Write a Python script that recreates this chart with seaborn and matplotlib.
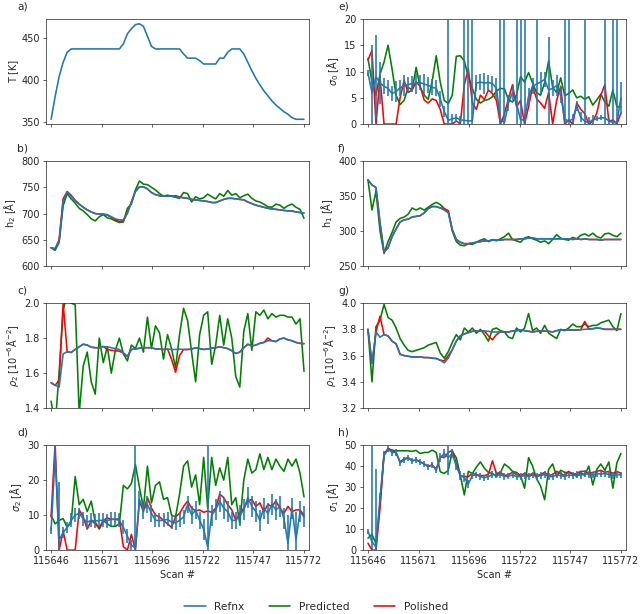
import numpy as np
import matplotlib
matplotlib.use("Agg")
import matplotlib.pyplot as plt
from matplotlib.lines import Line2D
import seaborn as sns

# scan numbers (every second scan)
scans = np.arange(115646, 115773, 2)

temperature = [353, 380, 404, 421, 433, 437, 437, 437,
               437, 437, 437, 437, 437, 437, 437, 437,
               437, 437, 443, 455, 461, 466, 467, 464,
               452, 440, 437, 437, 437, 437, 437, 437,
               437, 431, 426, 426, 426, 423, 419, 419,
               419, 419, 426, 426, 433, 437, 437, 437,
               431, 421, 411, 402, 394, 387, 381, 375,
               370, 366, 362, 359, 355, 353, 353, 353]

# b) h2
h2_refnx = [635, 633, 648, 722, 741, 733, 725, 718,
            712, 707, 703, 700, 699, 699, 698, 694,
            690, 688, 688, 700, 722, 742, 751, 751,
            747, 740, 736, 734, 733, 733, 733, 732,
            731, 730, 729, 727, 726, 725, 724, 723,
            721, 721, 724, 727, 729, 729, 728, 727,
            726, 722, 719, 716, 714, 712, 710, 709,
            708, 707, 706, 705, 705, 703, 702, 701]
h2_predicted = [635, 630, 645, 715, 738, 728, 720, 710,
                705, 698, 690, 686, 694, 698, 692, 690,
                686, 683, 684, 710, 718, 745, 762, 756,
                755, 750, 745, 738, 733, 735, 733, 731,
                729, 740, 738, 722, 732, 728, 730, 737,
                732, 728, 738, 733, 744, 735, 738, 730,
                734, 737, 729, 724, 722, 718, 713, 712,
                718, 716, 710, 715, 718, 712, 708, 691]
h2_polished = [635, 633, 650, 728, 742, 735, 725, 718,
               712, 707, 703, 700, 699, 699, 697, 693,
               688, 685, 686, 702, 722, 742, 751, 751,
               747, 740, 736, 734, 733, 733, 733, 734,
               732, 730, 729, 727, 726, 725, 724, 723,
               721, 721, 724, 727, 729, 729, 728, 727,
               726, 722, 719, 716, 714, 712, 710, 709,
               708, 707, 706, 705, 705, 703, 702, 701]

# c) rho2
rho2_refnx = [1.545, 1.530, 1.520, 1.710, 1.722, 1.718, 1.735, 1.750,
              1.765, 1.760, 1.748, 1.745, 1.745, 1.752, 1.750, 1.745,
              1.740, 1.735, 1.715, 1.695, 1.735, 1.738, 1.742, 1.745,
              1.745, 1.745, 1.738, 1.737, 1.735, 1.737, 1.735, 1.735,
              1.737, 1.735, 1.735, 1.737, 1.745, 1.740, 1.735, 1.738,
              1.742, 1.745, 1.750, 1.745, 1.740, 1.728, 1.712, 1.720,
              1.745, 1.765, 1.755, 1.760, 1.770, 1.775, 1.785, 1.785,
              1.780, 1.795, 1.800, 1.790, 1.785, 1.775, 1.770, 1.768]
rho2_predicted = [1.44, 1.30, 1.60, 1.96, 2.05, 2.00, 1.99, 1.37,
                  1.64, 1.72, 1.55, 1.48, 1.80, 1.66, 1.75, 1.60,
                  1.73, 1.80, 1.71, 1.67, 1.76, 1.74, 1.80, 1.72,
                  1.92, 1.74, 1.87, 1.83, 1.68, 1.82, 1.74, 1.63,
                  1.82, 1.97, 1.90, 1.72, 1.55, 1.82, 1.93, 1.95,
                  1.65, 1.76, 1.93, 1.76, 1.91, 1.80, 1.58, 1.52,
                  1.84, 1.94, 1.73, 1.95, 1.93, 1.96, 1.91, 1.94,
                  1.92, 1.93, 1.93, 1.92, 1.92, 1.88, 1.91, 1.61]
rho2_polished = [1.545, 1.530, 1.560, 2.000, 1.722, 1.718, 1.735, 1.750,
                 1.765, 1.760, 1.748, 1.745, 1.745, 1.752, 1.735, 1.730,
                 1.728, 1.725, 1.715, 1.695, 1.735, 1.738, 1.742, 1.745,
                 1.745, 1.745, 1.738, 1.737, 1.735, 1.737, 1.680, 1.605,
                 1.700, 1.735, 1.735, 1.737, 1.745, 1.740, 1.735, 1.738,
                 1.742, 1.745, 1.750, 1.745, 1.740, 1.728, 1.712, 1.720,
                 1.745, 1.765, 1.755, 1.760, 1.770, 1.775, 1.800, 1.785,
                 1.780, 1.795, 1.800, 1.790, 1.785, 1.775, 1.770, 1.768]

# d) sigma2
sigma2_refnx = [5.7, 27.0, 3.0, 5.0, 6.5, 8.5, 10.0, 10.5,
                9.0, 8.0, 8.5, 8.3, 8.5, 8.5, 8.4, 8.8,
                8.8, 8.5, 6.5, 4.0, 1.5, 0.5, 14.5, 11.5,
                13.0, 10.5, 8.5, 8.5, 8.5, 8.8, 8.0, 7.8,
                8.5, 9.5, 13.0, 10.0, 11.5, 8.5, 6.0, 1.0,
                10.0, 11.5, 14.0, 12.0, 11.0, 8.5, 8.5, 10.0,
                11.5, 15.0, 12.5, 11.0, 8.5, 12.0, 10.5, 13.0,
                11.5, 12.5, 9.0, 2.0, 12.0, 3.0, 11.0, 9.5]
sigma2_err = [1.0, 3, 16.5, 1.5, 1.5, 2, 2, 1.5,
              2, 2, 2, 2, 2, 2, 2, 2,
              2, 2, 2, 2, 1.5, 30, 2.5, 2.5,
              2.5, 2.5, 2, 2, 2, 2, 2, 2,
              2, 2, 2.5, 2.5, 2.5, 2.5, 3, 30,
              3, 3, 3, 3, 3, 2.5, 2.5, 3,
              3, 3, 3, 3, 3, 3, 3, 3,
              3, 3, 3, 8, 3, 8, 3, 3]
sigma2_predicted = [10.0, 7.5, 8.5, 9.0, 6.5, 8.0, 21.0, 13.0,
                    14.5, 11.0, 14.0, 8.0, 6.0, 8.5, 7.5, 6.8,
                    6.8, 7.5, 18.5, 17.5, 19.0, 24.5, 18.0, 12.0,
                    24.0, 13.5, 18.5, 19.5, 14.5, 15.0, 10.0, 9.5,
                    16.0, 24.0, 25.5, 18.0, 21.5, 13.0, 26.5, 12.0,
                    26.5, 18.5, 23.5, 20.0, 26.5, 13.0, 15.0, 7.5,
                    20.0, 26.0, 22.0, 23.0, 27.5, 23.0, 26.5, 23.0,
                    26.0, 24.0, 22.5, 26.0, 24.0, 26.0, 22.0, 15.2]
sigma2_polished = [9.5, 30.5, 0.0, 5.5, 0.0, 0.0, 0.0, 11.5,
                   9.5, 6.0, 8.5, 7.5, 6.3, 8.5, 9.2, 8.8,
                   8.8, 9.0, 1.0, 0.0, 4.5, 0.0, 14.0, 11.0,
                   15.0, 12.0, 10.0, 9.5, 8.5, 7.5, 6.5, 9.5,
                   10.5, 12.5, 14.0, 12.0, 11.2, 11.5, 10.8, 11.2,
                   10.8, 12.0, 16.0, 15.0, 13.0, 11.5, 8.5, 10.5,
                   12.0, 14.0, 14.5, 12.5, 13.5, 11.0, 13.0, 12.5,
                   14.0, 12.0, 10.5, 12.5, 11.0, 11.5, 11.5, 10.0]

# e) sigma0
sigma0_refnx = [9.7, 6.0, 9.0, 7.8, 7.2, 6.8, 5.8, 6.2,
                6.9, 7.3, 7.5, 7.7, 7.8, 7.9, 7.6, 7.4,
                7.0, 6.8, 4.8, 2.4, 0.7, 1.0, 1.2, 0.8,
                0.7, 0.6, 0.6, 7.8, 8.0, 7.8, 7.9, 7.7,
                6.8, 0.8, 0.3, 4.0, 6.0, 4.0, 0.8, 0.8,
                5.3, 7.2, 7.6, 8.0, 8.5, 6.5, 6.8, 7.3,
                5.5, 1.0, 0.5, 1.0, 3.4, 1.3, 0.5, 0.3,
                0.8, 1.0, 1.2, 1.2, 0.6, 0.3, 0.3, 5.0]
sigma0_err = [0.5, 9, 8, 4, 1.5, 1.5, 1.5, 2,
              1.5, 2, 1.5, 1.5, 2, 1.5, 2, 1.5,
              1.5, 1.5, 1.5, 1.0, 40, 1.0, 0.8, 0.8,
              40, 40, 40, 1.5, 1.5, 2, 1.5, 1.5,
              2, 40, 40, 1.5, 1.5, 40, 40, 40,
              1.5, 1.5, 40, 2, 1.5, 10, 1.5, 2,
              1.5, 40, 40, 1.0, 1.0, 1.0, 40, 1.0,
              1.0, 0.5, 0.5, 40, 0.5, 40, 40, 3]
sigma0_predicted = [12.5, 8.0, 5.5, 9.5, 11.8, 15.0, 10.5, 5.5,
                    3.7, 4.5, 7.0, 6.5, 10.8, 7.0, 5.5, 4.7,
                    8.2, 13.0, 8.0, 4.5, 3.9, 5.5, 12.9, 13.0,
                    12.0, 9.0, 6.8, 4.7, 4.0, 4.5, 4.7, 5.2,
                    6.3, 6.8, 6.7, 4.6, 4.2, 5.5, 9.0, 8.0,
                    9.8, 7.8, 6.0, 5.5, 7.9, 12.0, 7.0, 6.0,
                    8.8, 5.4, 5.8, 6.5, 5.0, 5.3, 4.7, 5.2,
                    3.6, 4.6, 5.7, 4.2, 3.4, 6.5, 3.3, 3.3]
sigma0_polished = [12.2, 14.0, 0.0, 9.0, 0.0, 0.0, 0.0, 0.0,
                   5.0, 8.3, 6.0, 6.5, 8.0, 7.2, 4.6, 4.0,
                   4.8, 4.5, 2.8, 0.0, 0.0, 0.0, 0.6, 0.0,
                   7.5, 10.5, 4.0, 2.8, 5.5, 4.7, 6.5, 5.8,
                   4.5, 0.0, 2.0, 4.8, 7.5, 3.3, 4.5, 0.0,
                   3.3, 7.2, 4.8, 4.0, 3.0, 6.0, 0.0, 4.5,
                   7.2, 0.0, 0.8, 0.0, 4.0, 2.8, 2.0, 0.0,
                   0.5, 2.1, 5.5, 7.5, 0.5, 0.8, 0.0, 2.1]

# f) h1
h1_refnx = [373, 366, 362, 312, 270, 276, 292, 303,
            313, 316, 317, 320, 321, 322, 326, 332,
            335, 335, 333, 330, 326, 302, 288, 284,
            282, 282, 283, 284, 285, 286, 286, 287,
            287, 287, 288, 288, 288, 288, 289, 289,
            290, 290, 289, 289, 289, 289, 289, 289,
            289, 289, 289, 288, 289, 288, 289, 288,
            288, 288, 287, 288, 288, 288, 288, 288]
h1_predicted = [373, 330, 357, 300, 268, 285, 298, 313,
                318, 320, 324, 333, 330, 333, 330, 334,
                338, 341, 338, 332, 328, 300, 285, 280,
                279, 282, 281, 284, 287, 289, 285, 288,
                286, 289, 292, 297, 288, 286, 284, 290,
                292, 289, 287, 284, 286, 282, 288, 295,
                290, 288, 287, 291, 289, 294, 296, 293,
                297, 292, 290, 296, 297, 294, 292, 297]
h1_polished = [373, 366, 362, 312, 270, 276, 292, 303,
               313, 316, 317, 320, 321, 322, 326, 332,
               335, 335, 333, 332, 329, 302, 288, 284,
               282, 282, 283, 284, 285, 286, 286, 287,
               287, 287, 288, 288, 288, 288, 289, 289,
               290, 290, 289, 289, 289, 289, 289, 289,
               289, 289, 289, 288, 289, 288, 289, 288,
               288, 288, 287, 288, 288, 288, 288, 288]

# g) rho1
rho1_refnx = [3.80, 3.54, 3.78, 3.74, 3.76, 3.75, 3.71, 3.69,
              3.61, 3.60, 3.595, 3.59, 3.59, 3.59, 3.585, 3.585,
              3.58, 3.578, 3.565, 3.545, 3.58, 3.645, 3.71, 3.75,
              3.765, 3.775, 3.785, 3.787, 3.787, 3.787, 3.785, 3.78,
              3.78, 3.78, 3.78, 3.78, 3.787, 3.79, 3.795, 3.79,
              3.785, 3.78, 3.785, 3.787, 3.787, 3.785, 3.78, 3.79,
              3.795, 3.795, 3.795, 3.795, 3.795, 3.797, 3.80, 3.802,
              3.805, 3.81, 3.807, 3.80, 3.80, 3.80, 3.80, 3.80]
rho1_predicted = [3.80, 3.40, 3.82, 3.87, 3.99, 3.89, 3.87, 3.81,
                  3.73, 3.68, 3.64, 3.63, 3.64, 3.65, 3.66, 3.68,
                  3.69, 3.70, 3.62, 3.58, 3.63, 3.70, 3.76, 3.72,
                  3.81, 3.78, 3.81, 3.77, 3.80, 3.76, 3.71, 3.80,
                  3.81, 3.79, 3.78, 3.74, 3.73, 3.81, 3.78, 3.81,
                  3.92, 3.79, 3.81, 3.77, 3.83, 3.77, 3.75, 3.73,
                  3.80, 3.79, 3.81, 3.84, 3.82, 3.82, 3.84, 3.82,
                  3.83, 3.83, 3.85, 3.86, 3.87, 3.82, 3.79, 3.92]
rho1_polished = [3.80, 3.54, 3.78, 3.90, 3.76, 3.75, 3.71, 3.69,
                 3.61, 3.60, 3.595, 3.59, 3.59, 3.59, 3.585, 3.585,
                 3.58, 3.578, 3.565, 3.56, 3.60, 3.645, 3.71, 3.75,
                 3.765, 3.775, 3.785, 3.787, 3.787, 3.787, 3.75, 3.72,
                 3.76, 3.78, 3.78, 3.78, 3.787, 3.79, 3.795, 3.79,
                 3.785, 3.78, 3.785, 3.787, 3.787, 3.785, 3.78, 3.79,
                 3.795, 3.795, 3.795, 3.795, 3.795, 3.797, 3.86, 3.802,
                 3.805, 3.81, 3.807, 3.80, 3.80, 3.80, 3.80, 3.80]

# h) sigma1
sigma1_refnx = [8.9, 4.0, 1.5, 25.0, 45.0, 48.0, 46.5, 46.5,
                41.5, 43.0, 44.0, 42.5, 43.0, 42.0, 41.0, 39.7,
                40.5, 38.0, 44.0, 46.0, 44.0, 46.0, 40.0, 35.5,
                34.5, 31.5, 35.5, 35.8, 35.0, 34.5, 35.0, 36.0,
                35.8, 36.0, 35.0, 35.2, 35.8, 35.0, 35.0, 35.5,
                35.0, 35.8, 35.0, 35.5, 36.0, 35.0, 35.0, 35.8,
                35.5, 35.0, 35.8, 35.5, 36.0, 35.5, 36.5, 36.0,
                35.8, 36.5, 36.2, 36.5, 36.0, 35.5, 36.0, 35.8]
sigma1_err = [1, 50, 37, 2, 2, 1.5, 1.5, 1.5,
              1.5, 1.5, 1.5, 1.5, 1.5, 1.5, 1.5, 1.5,
              1.5, 1.5, 2, 2, 8, 2, 2, 2,
              2, 2, 1.5, 1.5, 1.5, 1.5, 1.5, 1.5,
              1.5, 1.5, 1.5, 1.5, 1.5, 1.5, 1.5, 1.5,
              1.5, 1.5, 1.5, 1.5, 1.5, 1.5, 1.5, 1.5,
              1.5, 1.5, 1.5, 1.5, 1.5, 1.5, 1.5, 1.5,
              1.5, 1.5, 1.5, 1.5, 1.5, 1.5, 1.5, 1.5]
sigma1_predicted = [5.7, 7.5, 3.0, 22.0, 46.0, 47.6, 47.5, 47.3,
                    47.3, 47.3, 47.3, 47.0, 47.5, 46.0, 46.5, 46.5,
                    47.6, 46.5, 37.3, 36.5, 38.0, 47.0, 44.0, 35.5,
                    26.3, 37.5, 36.5, 39.5, 42.0, 39.0, 37.0, 36.5,
                    35.0, 37.0, 41.0, 39.5, 37.5, 37.0, 35.5, 29.5,
                    44.0, 40.0, 34.0, 30.5, 24.0, 38.5, 41.0, 35.0,
                    38.0, 37.0, 37.0, 36.5, 35.0, 37.0, 35.5, 40.0,
                    31.0, 38.5, 41.0, 38.0, 42.0, 29.5, 41.5, 46.0]
sigma1_polished = [3.3, 0.0, 0.0, 20.0, 45.5, 48.5, 47.5, 46.5,
                   42.0, 43.5, 44.0, 42.5, 43.0, 42.0, 41.0, 40.0,
                   40.5, 38.5, 44.5, 44.0, 46.5, 47.5, 41.0, 35.5,
                   35.0, 35.0, 36.5, 36.0, 35.5, 35.5, 36.0, 42.5,
                   36.5, 37.0, 35.5, 36.0, 37.0, 36.0, 35.5, 36.5,
                   35.5, 36.5, 35.5, 36.0, 37.0, 35.5, 36.0, 37.5,
                   36.5, 35.5, 37.5, 36.0, 36.5, 37.5, 37.5, 36.5,
                   37.0, 37.5, 38.0, 37.0, 37.5, 36.5, 37.5, 36.5]

sns.set_style("ticks")
plt.rcParams['font.family'] = ['DejaVu Sans']
plt.rcParams['font.size'] = 11
plt.rcParams['axes.labelsize'] = 11
plt.rcParams['xtick.labelsize'] = 11
plt.rcParams['ytick.labelsize'] = 11

REFNX = '#1f77b4'
PRED = 'green'
POL = 'red'
LW = 1.8


def draw(ax, refnx, predicted, polished, err=None):
    sns.lineplot(x=scans, y=predicted, ax=ax, color=PRED, lw=LW, zorder=2)
    sns.lineplot(x=scans, y=polished, ax=ax, color=POL, lw=LW, zorder=3)
    if err is None:
        sns.lineplot(x=scans, y=refnx, ax=ax, color=REFNX, lw=LW, zorder=4)
    else:
        ax.errorbar(scans, refnx, yerr=err, color=REFNX, lw=LW, zorder=4)


fig, axes = plt.subplots(4, 2, figsize=(10, 9.594), dpi=64, sharex=True)
fig.subplots_adjust(left=0.072, right=0.978, bottom=0.104, top=0.969,
                    wspace=0.205, hspace=0.352)

ax = axes[0, 0]
sns.lineplot(x=scans, y=temperature, ax=ax, color=REFNX, lw=LW)
ax.set_ylabel("T [K]")

draw(axes[1, 0], h2_refnx, h2_predicted, h2_polished)
axes[1, 0].set_ylim(600, 800)
axes[1, 0].set_ylabel("h$_2$ [Å]")

draw(axes[2, 0], rho2_refnx, rho2_predicted, rho2_polished)
axes[2, 0].set_ylim(1.4, 2.0)
axes[2, 0].set_yticks([1.4, 1.6, 1.8, 2.0])
axes[2, 0].set_ylabel(r"$\rho_2$ [10$^{-6}$Å$^{-2}$]")

draw(axes[3, 0], sigma2_refnx, sigma2_predicted, sigma2_polished, sigma2_err)
axes[3, 0].set_ylim(0, 30)
axes[3, 0].set_yticks([0, 10, 20, 30])
axes[3, 0].set_ylabel(r"$\sigma_2$ [Å]")

draw(axes[0, 1], sigma0_refnx, sigma0_predicted, sigma0_polished, sigma0_err)
axes[0, 1].set_ylim(0, 20)
axes[0, 1].set_yticks([0, 5, 10, 15, 20])
axes[0, 1].set_ylabel(r"$\sigma_0$ [Å]")

draw(axes[1, 1], h1_refnx, h1_predicted, h1_polished)
axes[1, 1].set_ylim(250, 400)
axes[1, 1].set_yticks([250, 300, 350, 400])
axes[1, 1].set_ylabel("h$_1$ [Å]")

draw(axes[2, 1], rho1_refnx, rho1_predicted, rho1_polished)
axes[2, 1].set_ylim(3.2, 4.0)
axes[2, 1].set_yticks([3.2, 3.4, 3.6, 3.8, 4.0])
axes[2, 1].set_ylabel(r"$\rho_1$ [10$^{-6}$Å$^{-2}$]")

draw(axes[3, 1], sigma1_refnx, sigma1_predicted, sigma1_polished, sigma1_err)
axes[3, 1].set_ylim(0, 50)
axes[3, 1].set_yticks([0, 10, 20, 30, 40, 50])
axes[3, 1].set_ylabel(r"$\sigma_1$ [Å]")

ticks = np.linspace(115646, 115772, 6)
axes[3, 0].set_xticks(ticks)
axes[3, 0].set_xticklabels([str(int(round(t))) for t in ticks])
axes[3, 0].set_xlim(115643.5, 115774.5)

letters = [["a)", "e)"], ["b)", "f)"], ["c)", "g)"], ["d)", "h)"]]
for r in range(4):
    for c in range(2):
        a = axes[r, c]
        a.text(-0.11 if c == 0 else -0.095, 1.07, letters[r][c],
               transform=a.transAxes, fontsize=12, ha='left', va='bottom')
        if r == 3:
            a.set_xlabel("Scan #")

handles = [Line2D([], [], color=REFNX, lw=LW),
           Line2D([], [], color=PRED, lw=LW),
           Line2D([], [], color=POL, lw=LW)]
fig.legend(handles, ["Refnx", "Predicted", "Polished"], loc='lower center',
           ncol=3, frameon=False, bbox_to_anchor=(0.494, -0.012),
           fontsize=12, columnspacing=2.3)

fig.savefig("out.png", dpi=64)
